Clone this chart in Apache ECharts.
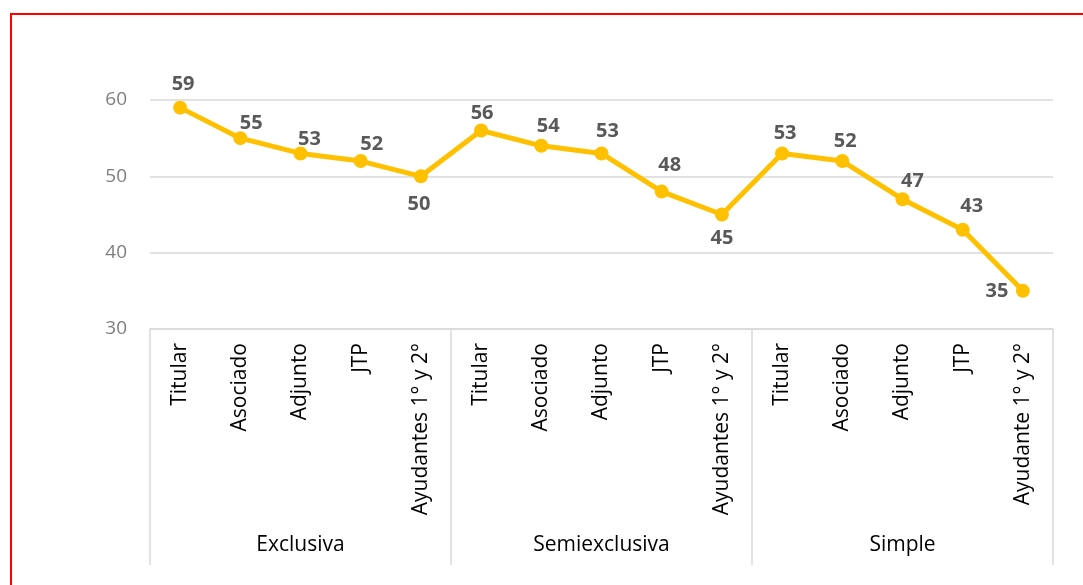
<!DOCTYPE html>
<html>
<head>
<meta charset="utf-8">
<script src="https://cdn.jsdelivr.net/npm/echarts@6/dist/echarts.min.js"></script>
<style>
  html, body { margin: 0; padding: 0; background: #fff; }
  #frame {
    position: absolute; left: 10px; top: 13px; width: 1100px; height: 600px;
    border-left: 2px solid #ff0000; border-top: 2px solid #ff0000;
  }
  #main { position: absolute; left: 0; top: 0; width: 1083px; height: 585px; }
</style>
</head>
<body>
<div id="frame"></div>
<div id="main"></div>
<script>
const categories = [
  'Titular', 'Asociado', 'Adjunto', 'JTP', 'Ayudantes 1° y 2°',
  'Titular', 'Asociado', 'Adjunto', 'JTP', 'Ayudantes 1° y 2°',
  'Titular', 'Asociado', 'Adjunto', 'JTP', 'Ayudante 1° y 2°'
]
const groups = ['Exclusiva', 'Semiexclusiva', 'Simple']
const values = [59, 55, 53, 52, 50, 56, 54, 53, 48, 45, 53, 52, 47, 43, 35]

// desplazamiento de cada etiqueta respecto al punto (px), como en el original
const labelOffset = [
  [3, -23], [11, -15], [9, -14], [11, -17], [-2, 28],
  [1, -17], [7, -20], [6, -22], [8, -26], [0, 24],
  [3, -20], [3, -20], [10, -18], [9, -23], [-26, 0]
]

const font = '"Open Sans", sans-serif'
const chart = echarts.init(document.getElementById('main'))

const option = {
  animation: false,
  grid: { left: 150, right: 30, top: 100, bottom: 256 },
  xAxis: [
    {
      type: 'category',
      data: categories,
      boundaryGap: true,
      axisLine: { lineStyle: { color: '#d9d9d9', width: 1.5 } },
      axisTick: { show: false },
      axisLabel: {
        interval: 0,
        rotate: 90,
        margin: 14,
        color: '#000',
        fontSize: 21,
        fontFamily: font
      }
    },
    {
      type: 'category',
      data: groups,
      position: 'bottom',
      boundaryGap: true,
      axisLine: { show: false },
      axisTick: {
        show: true,
        length: 236,
        lineStyle: { color: '#d9d9d9', width: 1.5 }
      },
      axisLabel: {
        margin: 206,
        color: '#000',
        fontSize: 21,
        fontFamily: font
      }
    }
  ],
  yAxis: {
    type: 'value',
    min: 30,
    max: 60,
    interval: 10,
    axisLine: { show: false },
    axisTick: { show: false },
    axisLabel: {
      margin: 23,
      color: '#7f7f7f',
      fontSize: 19,
      fontFamily: font
    },
    splitLine: { lineStyle: { color: '#d9d9d9', width: 1.5 } }
  },
  series: [
    {
      type: 'line',
      data: values.map((v, i) => ({
        value: v,
        label: { offset: labelOffset[i] }
      })),
      symbol: 'circle',
      symbolSize: 14,
      lineStyle: { color: '#ffc000', width: 5 },
      itemStyle: { color: '#ffc000' },
      label: {
        show: true,
        position: 'inside',
        color: '#595959',
        fontWeight: 'bold',
        fontSize: 20,
        fontFamily: font
      }
    }
  ]
}

chart.setOption(option)
</script>
</body>
</html>
